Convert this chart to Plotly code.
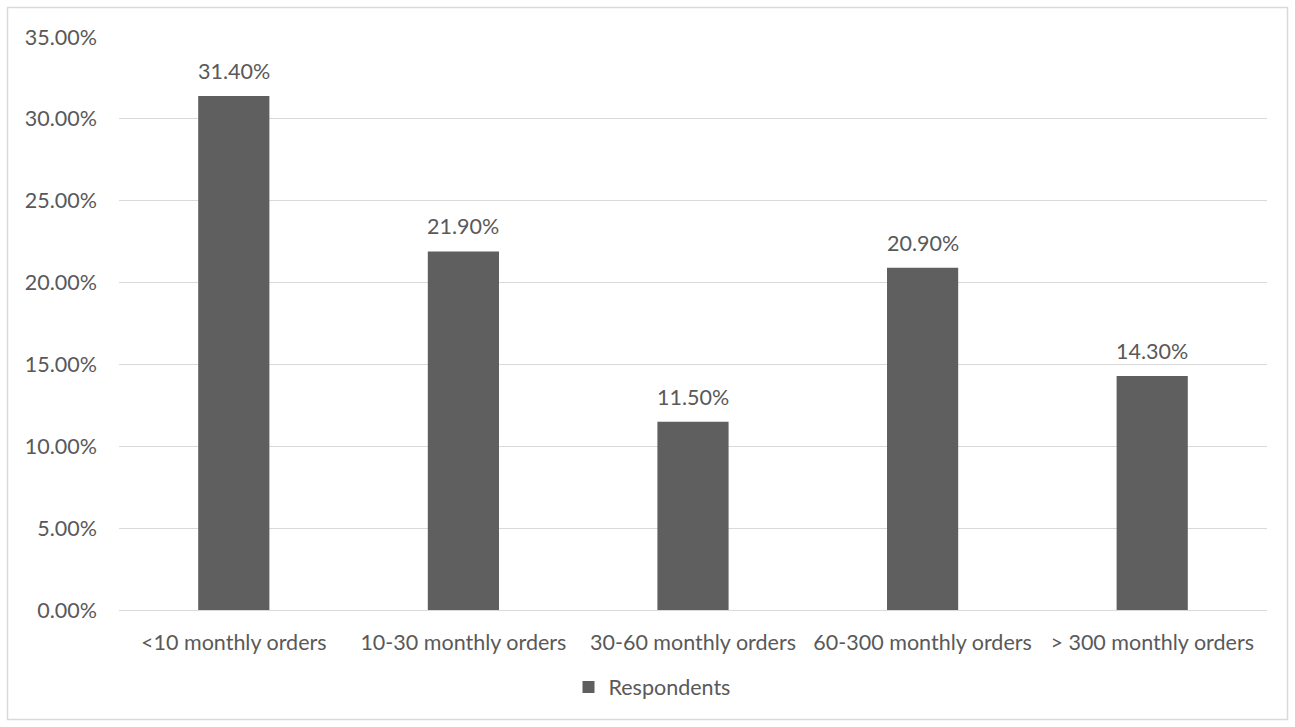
import plotly.graph_objects as go

categories = ["<10 monthly orders", "10-30 monthly orders", "30-60 monthly orders",
              "60-300 monthly orders", "> 300 monthly orders"]
respondents = [31.40, 21.90, 11.50, 20.90, 14.30]
tick_vals = [0, 5, 10, 15, 20, 25, 30, 35]
tick_text = ["0.00%", "5.00%", "10.00%", "15.00%", "20.00%", "25.00%", "30.00%", "35.00%"]

W, H = 1295, 727
L, R, T, B = 119, 28, 37, 117
pw, ph = W - L - R, H - T - B

FONT = "Lato"
FS = 21.5
TXT = "#595959"
BAR = "#5f5f5f"

fig = go.Figure()
fig.add_trace(go.Bar(
    x=categories, y=respondents, name="Respondents",
    marker=dict(color=BAR, line=dict(width=0)),
))

# value labels sitting above each bar
for c, v in zip(categories, respondents):
    fig.add_annotation(x=c, y=v, text=f"{v:.2f}%", showarrow=False,
                       yanchor="bottom", yshift=10,
                       font=dict(family=FONT, size=FS, color=TXT))

def px_x(p):
    return (p - L) / pw

def px_y(p):
    return (H - B - p) / ph

fig.update_layout(
    width=W, height=H,
    margin=dict(l=L, r=R, t=T, b=B),
    paper_bgcolor="white", plot_bgcolor="white",
    bargap=0.69,
    showlegend=True,
    legend=dict(orientation="h", x=px_x(652), xanchor="center", y=px_y(687), yanchor="middle",
                itemwidth=30,
                font=dict(family=FONT, size=FS, color=TXT)),
    font=dict(family=FONT, size=FS, color=TXT),
    xaxis=dict(showgrid=False, showline=True, linecolor="#d9d9d9", linewidth=1,
               ticks="", ticklabelstandoff=13,
               tickfont=dict(family=FONT, size=FS, color=TXT)),
    yaxis=dict(range=[0, 35], tickvals=tick_vals, ticktext=tick_text,
               showgrid=True, gridcolor="#d9d9d9", gridwidth=1,
               zeroline=False, showline=False, ticks="", ticklabelstandoff=21,
               tickfont=dict(family=FONT, size=FS, color=TXT)),
    shapes=[dict(type="rect", xref="paper", yref="paper",
                 x0=px_x(7.5), x1=px_x(1287.5), y0=px_y(719.5), y1=px_y(7.5),
                 line=dict(color="#d9d9d9", width=1.5), fillcolor="rgba(0,0,0,0)",
                 layer="below")],
)

fig.write_html("out.html")
